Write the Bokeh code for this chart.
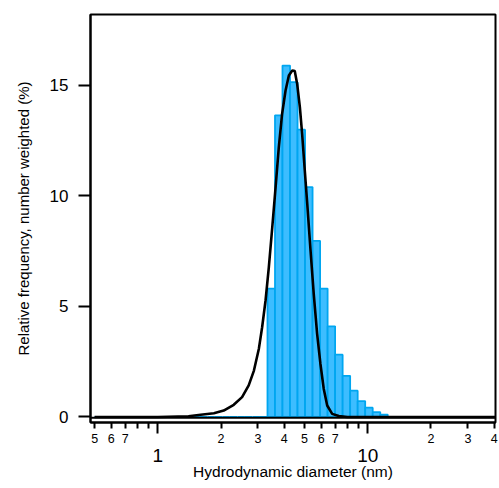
from bokeh.plotting import figure
from bokeh.models import Range1d, FixedTicker, LogAxis, Span, ColumnDataSource
from bokeh.embed import file_html
from bokeh.resources import INLINE

# Histogram bins (nm), log-spaced edges
bin_left = [0.500, 0.543, 0.590, 0.640, 0.695, 0.755, 0.820, 0.890, 0.967, 1.050,
            1.140, 1.238, 1.345, 1.460, 1.586, 1.722, 1.870, 2.030, 2.205, 2.394,
            2.600, 2.823, 3.066, 3.330, 3.616, 3.926, 4.264, 4.630, 5.028, 5.460,
            5.929, 6.439, 6.992, 7.593, 8.245, 8.954, 9.723, 10.56, 11.47]
bin_right = [0.543, 0.590, 0.640, 0.695, 0.755, 0.820, 0.890, 0.967, 1.050, 1.140,
             1.238, 1.345, 1.460, 1.586, 1.722, 1.870, 2.030, 2.205, 2.394, 2.600,
             2.823, 3.066, 3.330, 3.616, 3.926, 4.264, 4.630, 5.028, 5.460, 5.929,
             6.439, 6.992, 7.593, 8.245, 8.954, 9.723, 10.56, 11.47, 12.45]
frequency = [0, 0, 0, 0, 0, 0, 0, 0, 0, 0,
             0, 0, 0, 0, 0, 0, 0, 0, 0, 0,
             0, 0, 0, 5.81, 13.65, 15.9, 15.15, 13.0, 10.4, 7.97,
             5.81, 4.1, 2.82, 1.86, 1.19, 0.72, 0.42, 0.22, 0.11]

# Fitted distribution curve
curve_x = [0.5, 1.0, 1.4, 1.6, 1.85, 2.06, 2.3, 2.52, 2.71, 2.87, 3.03, 3.14, 3.26,
           3.38, 3.51, 3.64, 3.77, 3.91, 4.06, 4.21, 4.37, 4.49, 4.61, 4.75, 4.87,
           5.0, 5.15, 5.34, 5.53, 5.74, 5.95, 6.17, 6.41, 6.77, 7.28, 8.0, 40.6]
curve_y = [0, 0, 0.03, 0.1, 0.17, 0.29, 0.55, 0.9, 1.43, 2.1, 3.09, 4.06, 5.27,
           6.78, 8.59, 10.4, 12.2, 13.72, 14.77, 15.45, 15.68, 15.65, 15.08, 14.02, 12.81,
           11.3, 9.65, 7.53, 5.57, 3.76, 2.41, 1.28, 0.52, 0.14, 0.04, 0.0, 0.0]

# Tick positions and labels
x_small_ticks = [0.5, 0.6, 0.7, 0.8, 0.9, 2, 3, 4, 5, 6, 7, 8, 9, 20, 30, 40]
x_small_labels = ["5", "6", "7", "", "", "2", "3", "4", "5", "6", "7", "", "", "2", "3", "4"]
x_decade_ticks = [1, 10]
x_decade_labels = ["1", "10"]
y_ticks = [0, 5, 10, 15]

FONT = "Liberation Sans"

p = figure(width=499, height=488, x_axis_type="log",
           x_range=Range1d(0.478, 40.6), y_range=Range1d(-0.25, 18.21),
           output_backend="svg", toolbar_location=None,
           min_border_left=90, min_border_right=4, min_border_top=14, min_border_bottom=66)

p.grid.visible = False
p.background_fill_color = "white"
p.border_fill_color = "white"
p.outline_line_color = "black"
p.outline_line_width = 2
p.outline_line_alpha = 1

src = ColumnDataSource(dict(left=bin_left, right=bin_right, top=frequency,
                            bottom=[0] * len(frequency)))
p.quad(left="left", right="right", top="top", bottom="bottom", source=src,
       fill_color="#3DBDFF", line_color="#00A6F0", line_width=1.8)

p.line(curve_x, curve_y, line_color="black", line_width=2.6)

# bottom edge of the box, slightly above the offset x-axis
p.add_layout(Span(location=-0.04, dimension="width", line_color="black", line_width=2))

# y axis
ya = p.yaxis[0]
ya.ticker = FixedTicker(ticks=y_ticks, minor_ticks=[])
ya.axis_line_width = 2
ya.major_tick_line_width = 2
ya.major_tick_out = 12
ya.major_tick_in = 0
ya.major_label_standoff = 10
ya.major_label_text_font = FONT
ya.major_label_text_font_size = "17px"
ya.major_label_text_color = "black"
ya.axis_label = "Relative frequency, number weighted (%)"
ya.axis_label_text_font = FONT
ya.axis_label_text_font_size = "15px"
ya.axis_label_text_font_style = "normal"
ya.axis_label_text_color = "black"
ya.axis_label_standoff = 15

# x axis with small labels
xa = p.xaxis[0]
xa.ticker = FixedTicker(ticks=x_small_ticks, minor_ticks=x_decade_ticks)
xa.major_label_overrides = dict(zip(x_small_ticks, x_small_labels))
xa.axis_line_width = 2
xa.major_tick_line_width = 2
xa.major_tick_out = 6
xa.major_tick_in = 0
xa.minor_tick_line_width = 2
xa.minor_tick_line_color = "black"
xa.minor_tick_out = 11
xa.minor_tick_in = 0
xa.major_label_standoff = 0
xa.major_label_text_font = FONT
xa.major_label_text_font_size = "12.5px"
xa.major_label_text_color = "black"

# second x axis carrying the decade labels and the title
xb = LogAxis(ticker=FixedTicker(ticks=x_decade_ticks, minor_ticks=[]))
xb.major_label_overrides = dict(zip(x_decade_ticks, x_decade_labels))
xb.axis_line_color = None
xb.major_tick_line_color = None
xb.minor_tick_line_color = None
xb.major_label_standoff = -3
xb.major_label_text_font = FONT
xb.major_label_text_font_size = "19px"
xb.major_label_text_color = "black"
xb.axis_label = "Hydrodynamic diameter (nm)"
xb.axis_label_text_font = FONT
xb.axis_label_text_font_size = "15.5px"
xb.axis_label_text_font_style = "normal"
xb.axis_label_text_color = "black"
xb.axis_label_standoff = -2
p.add_layout(xb, "below")

open("out.html", "w").write(file_html(p, INLINE))
